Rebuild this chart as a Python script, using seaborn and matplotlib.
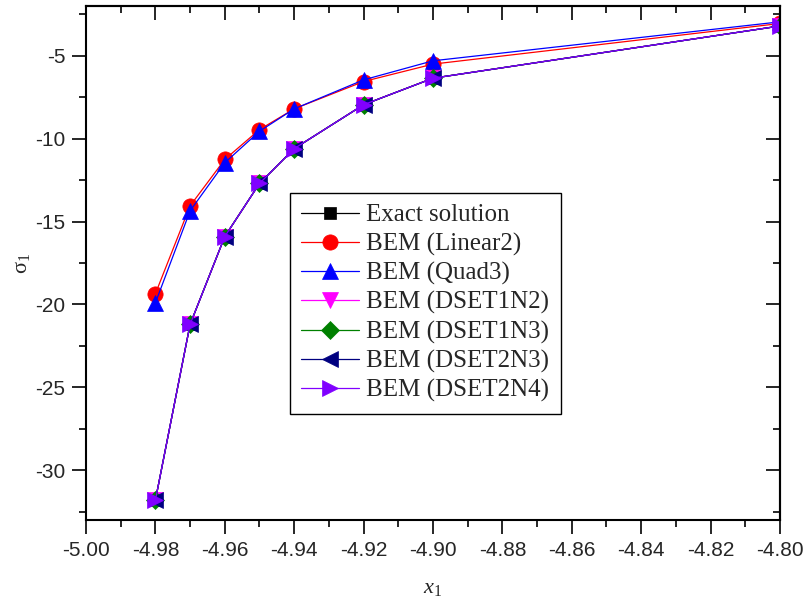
import pandas as pd
import matplotlib
matplotlib.use('Agg')
import matplotlib.pyplot as plt
import seaborn as sns

# x positions of the sample points
x1 = [-4.98, -4.97, -4.96, -4.95, -4.94, -4.92, -4.90, -4.80]

# sigma_1 values
exact = [-31.8, -21.2, -15.9, -12.7, -10.6, -7.95, -6.35, -3.2]
linear2 = [-19.35, -14.05, -11.25, -9.45, -8.2, -6.55, -5.5, -3.05]
quad3 = [-19.9, -14.35, -11.45, -9.55, -8.2, -6.45, -5.3, -2.95]
dset1n2 = [-31.8, -21.2, -15.9, -12.7, -10.6, -7.95, -6.35, -3.2]
dset1n3 = [-31.8, -21.2, -15.9, -12.7, -10.6, -7.95, -6.35, -3.2]
dset2n3 = [-31.8, -21.2, -15.9, -12.7, -10.6, -7.95, -6.35, -3.2]
dset2n4 = [-31.8, -21.2, -15.9, -12.7, -10.6, -7.95, -6.35, -3.2]

labels = ['Exact solution', 'BEM (Linear2)', 'BEM (Quad3)', 'BEM (DSET1N2)',
          'BEM (DSET1N3)', 'BEM (DSET2N3)', 'BEM (DSET2N4)']
series = [exact, linear2, quad3, dset1n2, dset1n3, dset2n3, dset2n4]
colors = ['#000000', '#ff0000', '#0000ff', '#ff00ff', '#008000', '#000080', '#8000ff']
markers = ['s', 'o', '^', 'v', 'D', '<', '>']
msizes = [8, 11, 11, 11, 9, 11, 11]

sns.set_style('ticks')
plt.rcParams['font.family'] = ['Liberation Sans', 'DejaVu Sans']
plt.rcParams['axes.unicode_minus'] = False
plt.rcParams['mathtext.fontset'] = 'custom'
plt.rcParams['mathtext.rm'] = 'Liberation Serif'
plt.rcParams['mathtext.it'] = 'Liberation Serif:italic'

fig, ax = plt.subplots(figsize=(8.06, 6.08), dpi=100)
fig.subplots_adjust(left=0.1067, right=0.9677, top=0.990, bottom=0.1447)

for lab, vals, c, m, ms in zip(labels, series, colors, markers, msizes):
    df = pd.DataFrame({'x': x1, 'y': vals})
    sns.lineplot(data=df, x='x', y='y', ax=ax, color=c, marker=m, markersize=ms,
                 markeredgecolor=c, markeredgewidth=0.5, linewidth=0.9, label=lab,
                 sort=False)

ax.set_xlim(-5.0, -4.8)
ax.set_ylim(-33, -2)
ax.set_xticks([-5.0 + 0.02 * i for i in range(11)])
ax.set_xticks([-4.99 + 0.02 * i for i in range(10)], minor=True)
ax.set_yticks([-30, -25, -20, -15, -10, -5])
ax.set_yticks([-32.5, -27.5, -22.5, -17.5, -12.5, -7.5, -2.5], minor=True)
ax.set_xticklabels(['%.2f' % v for v in ax.get_xticks()])
ax.set_yticklabels(['%d' % v for v in ax.get_yticks()])
ax.tick_params(which='major', direction='out', length=10, width=1.4, labelsize=15, pad=5)
ax.tick_params(which='minor', direction='out', length=5, width=1.4)

for s in ax.spines.values():
    s.set_linewidth(1.5)
    s.set_color('black')

# mirrored ticks pointing inwards on top and right
top = ax.secondary_xaxis('top')
top.set_xticks(ax.get_xticks())
top.set_xticks(ax.get_xticks(minor=True), minor=True)
top.tick_params(which='major', direction='in', length=10, width=1.4, labeltop=False)
top.tick_params(which='minor', direction='in', length=5, width=1.4)
top.spines['top'].set_linewidth(1.5)
right = ax.secondary_yaxis('right')
right.set_yticks(ax.get_yticks())
right.set_yticks(ax.get_yticks(minor=True), minor=True)
right.tick_params(which='major', direction='in', length=10, width=1.4, labelright=False)
right.tick_params(which='minor', direction='in', length=5, width=1.4)
right.spines['right'].set_linewidth(1.5)

ax.set_xlabel('$x_1$', fontsize=16, labelpad=12)
ax.set_ylabel('σ$_1$', fontsize=16, family=['Liberation Serif'])
ax.yaxis.set_label_coords(-0.078, 0.5)

leg = ax.legend(loc='upper left', bbox_to_anchor=(0.294, 0.637), borderaxespad=0,
                fancybox=False, framealpha=1, edgecolor='black', handlelength=2.3,
                numpoints=1, prop={'family': 'Liberation Serif', 'size': 18},
                labelspacing=0.25, borderpad=0.45, handletextpad=0.3)
leg.get_frame().set_linewidth(1.0)

plt.savefig('out.png', dpi=100)
